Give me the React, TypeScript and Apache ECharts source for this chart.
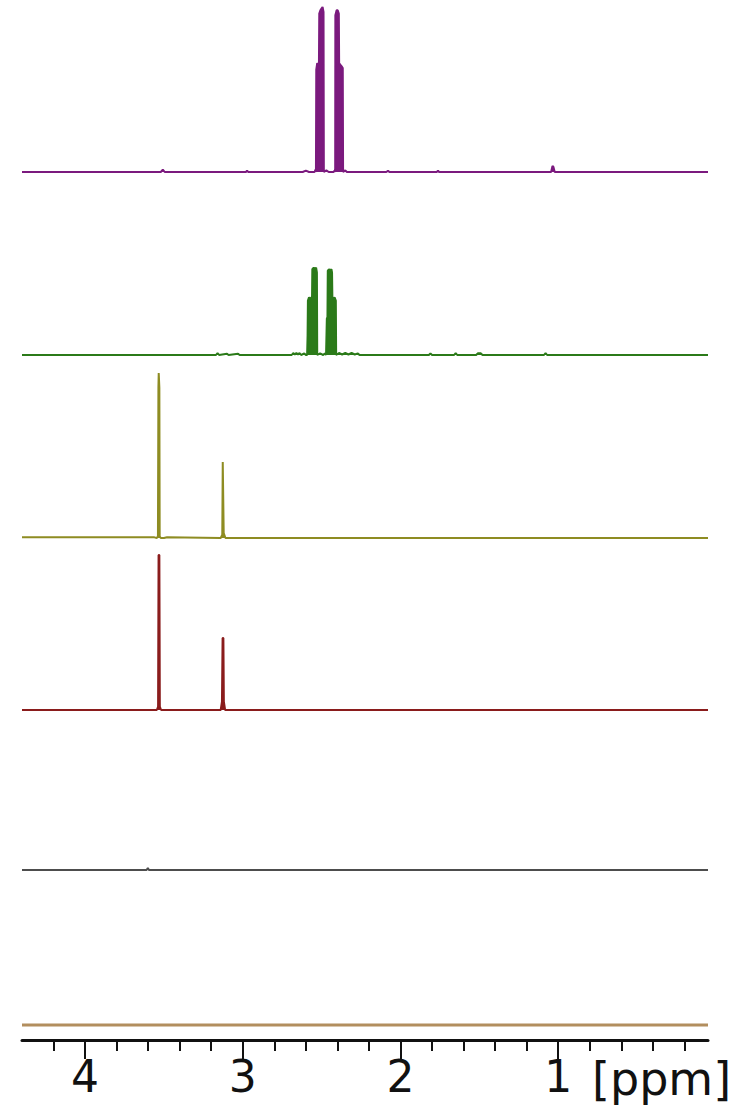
import React, { useEffect, useRef } from "react";
import * as echarts from "echarts";

// ppm range of the spectra (axis runs right-to-left)
const ppmMin = 0.05;
const ppmMax = 4.4;

// [ppm, intensity] — stacked 1H NMR traces, top to bottom
const purpleSpectrum: [number, number][] = [
  [4.4, 0], [3.52, 0], [3.507, 1.5], [3.495, 0], [2.98, 0], [2.973, 0.8], [2.965, 0],
  [2.62, 0], [2.6, 0.8], [2.58, 0],
  [2.545, 0], [2.539, 1.5], [2.536, 0], [2.535, 0], [2.534, 62], [2.528, 66], [2.522, 65],
  [2.517, 66], [2.515, 96], [2.508, 98], [2.501, 99], [2.494, 100], [2.488, 97], [2.486, 0],
  [2.47, 1], [2.455, 0],
  [2.425, 0], [2.416, 1], [2.414, 0], [2.413, 95], [2.405, 98], [2.398, 98], [2.391, 96],
  [2.389, 66], [2.381, 65], [2.373, 64], [2.366, 63], [2.364, 0], [2.35, 1], [2.34, 0],
  [2.09, 0], [2.079, 0.8], [2.07, 0], [1.77, 0], [1.762, 0.8], [1.755, 0],
  [1.045, 0], [1.036, 3.6], [1.03, 3.0], [1.022, 0], [0.05, 0],
];

const greenSpectrum: [number, number][] = [
  [4.4, 0], [3.17, 0], [3.16, 1.2], [3.15, 0], [3.1, 0.8], [3.09, 0], [3.03, 0.8], [3.02, 0],
  [2.69, 0], [2.68, 1.2], [2.67, 0.3], [2.66, 1.2], [2.65, 0.3], [2.64, 1.2], [2.63, 0], [2.61, 1], [2.6, 0],
  [2.592, 0], [2.589, 12], [2.587, 33], [2.58, 35], [2.572, 34], [2.565, 35], [2.561, 34],
  [2.559, 52], [2.55, 53], [2.542, 52], [2.535, 53], [2.53, 50], [2.528, 0],
  [2.51, 1], [2.49, 0], [2.48, 1], [2.472, 0],
  [2.469, 0], [2.467, 22], [2.463, 23], [2.461, 51], [2.454, 52], [2.446, 51], [2.438, 52], [2.434, 50],
  [2.432, 35], [2.425, 34], [2.418, 35], [2.41, 33], [2.408, 0],
  [2.39, 1.2], [2.37, 0.3], [2.35, 1.2], [2.33, 0.3], [2.31, 1.2], [2.29, 0.3], [2.27, 1], [2.26, 0],
  [1.82, 0], [1.81, 1], [1.8, 0], [1.66, 0], [1.65, 1.2], [1.64, 0],
  [1.52, 0], [1.51, 1], [1.49, 1], [1.48, 0], [1.09, 0], [1.08, 1.2], [1.07, 0], [0.05, 0],
];

const oliveSpectrum: [number, number][] = [
  [4.4, 0.4], [3.56, 0.4], [3.545, 0], [3.538, 1], [3.535, 91], [3.533, 100], [3.531, 100],
  [3.529, 91], [3.527, 1], [3.52, 0], [3.5, 0], [3.48, 0.5], [3.14, 0], [3.13, 2], [3.127, 46],
  [3.124, 46], [3.121, 3], [3.11, 0], [3.1, 0], [0.05, 0],
];

const redSpectrum: [number, number][] = [
  [4.4, 0], [3.545, 0], [3.537, 2], [3.534, 94], [3.529, 94], [3.526, 2], [3.518, 0],
  [3.14, 0], [3.132, 5], [3.128, 43.6], [3.123, 43.6], [3.12, 5], [3.112, 0], [0.05, 0],
];

const graySpectrum: [number, number][] = [
  [4.4, 0], [3.61, 0], [3.602, 1.2], [3.595, 0], [0.05, 0],
];

const tanSpectrum: [number, number][] = [
  [4.4, 0], [0.05, 0],
];

const traces = [
  { name: "A", data: purpleSpectrum, color: "#7b1a7e", baseline: 172, width: 2 },
  { name: "B", data: greenSpectrum, color: "#2b7a19", baseline: 355, width: 2 },
  { name: "C", data: oliveSpectrum, color: "#8e8c22", baseline: 538, width: 2 },
  { name: "D", data: redSpectrum, color: "#8a1c1c", baseline: 710, width: 2 },
  { name: "E", data: graySpectrum, color: "#4d4d4d", baseline: 870, width: 2 },
  { name: "F", data: tanSpectrum, color: "#b28e5e", baseline: 1025, width: 3 },
];

const axisName = "[ppm]";

export default function App() {
  const ref = useRef<HTMLDivElement>(null);
  useEffect(() => {
    if (!ref.current) return;
    const chart = echarts.init(ref.current, null, { renderer: "svg" });
    const H = 165;
    const left = 22;
    const right = 32;
    const grids: any[] = traces.map((t) => ({ left, right, top: t.baseline - H, height: H }));
    grids.push({ left, right, top: 1040, height: 19 });

    const xAxes: any[] = traces.map((_, i) => ({
      type: "value", gridIndex: i, min: ppmMin, max: ppmMax, inverse: true, show: false,
    }));
    xAxes.push({
      type: "value",
      gridIndex: traces.length,
      position: "top",
      min: ppmMin,
      max: ppmMax,
      inverse: true,
      minInterval: 1,
      maxInterval: 1,
      axisLine: { show: true, onZero: false, lineStyle: { color: "#111", width: 3 } },
      axisTick: { show: false, inside: true },
      minorTick: { show: true, splitNumber: 5, length: 11, lineStyle: { color: "#111", width: 2 } },
      splitLine: { show: true, showMinLine: false, showMaxLine: false, lineStyle: { color: "#111", width: 2 } },
      axisLabel: {
        inside: true,
        margin: 14,
        fontSize: 44,
        fontFamily: "DejaVu Sans",
        color: "#111",
        showMinLabel: false,
        showMaxLabel: false,
        formatter: (v: number) => (Number.isInteger(v) ? String(v) : ""),
      },
    });
    const yAxes: any[] = traces.map((_, i) => ({
      type: "value", gridIndex: i, min: 0, max: 100, show: false,
    }));
    yAxes.push({ type: "value", gridIndex: traces.length, min: 0, max: 1, show: false });

    chart.setOption({
      animation: false,
      grid: grids,
      xAxis: xAxes,
      yAxis: yAxes,
      graphic: [
        {
          type: "text",
          left: 592,
          top: 1056,
          style: { text: axisName, fontSize: 46, fontFamily: "DejaVu Sans", fill: "#111" },
        },
      ],
      series: traces.map((t, i) => ({
        name: t.name,
        type: "line",
        xAxisIndex: i,
        yAxisIndex: i,
        data: t.data,
        showSymbol: false,
        clip: false,
        silent: true,
        lineStyle: { color: t.color, width: t.width },
        areaStyle: { color: t.color, opacity: 1, origin: "start" },
      })),
    });
    return () => chart.dispose();
  }, []);
  return (
    <div
      ref={ref}
      style={{ position: "absolute", left: 0, top: 0, width: 740, height: 1106 }}
    />
  );
}
